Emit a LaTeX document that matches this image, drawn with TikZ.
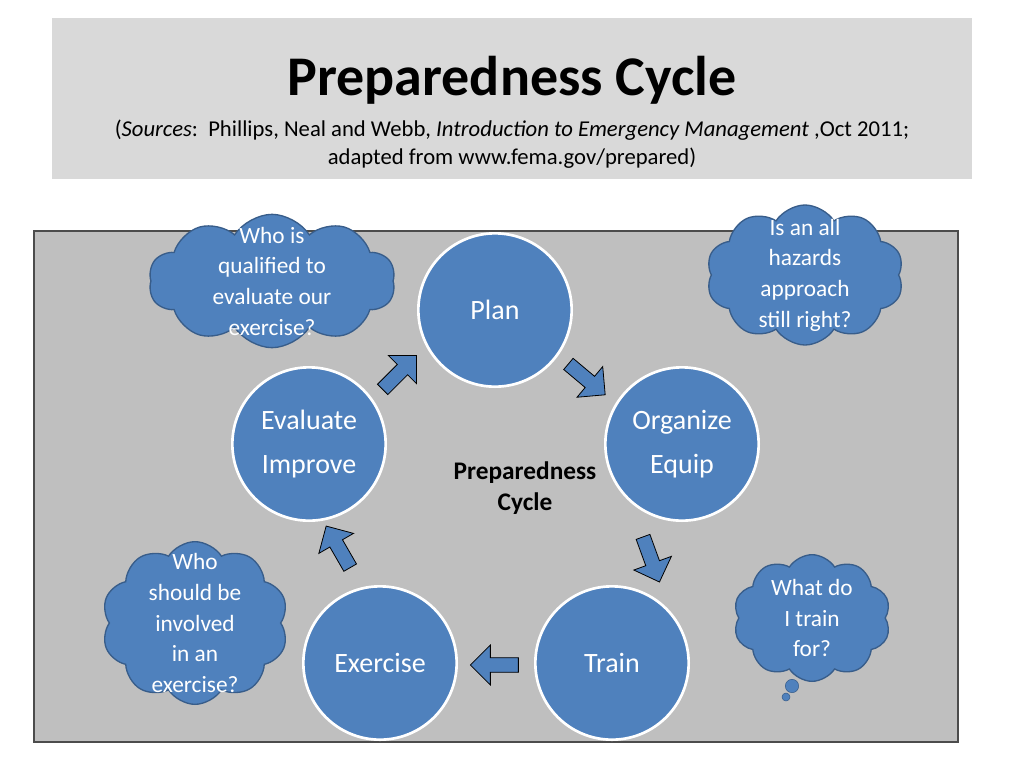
\documentclass[tikz,border=0pt]{standalone}
\usepackage{fontspec}
\setmainfont{Carlito}
\usetikzlibrary{shapes.symbols,shapes.arrows}
\definecolor{stepblue}{RGB}{79,129,189}
\definecolor{cloudedge}{RGB}{56,93,138}
\definecolor{titlegray}{RGB}{217,217,217}
\definecolor{panelgray}{RGB}{191,191,191}
\tikzset{
  phase/.style={circle, fill=stepblue, draw=white, line width=2pt, minimum size=115pt,
    text=white, font=\fontsize{21}{33}\selectfont, align=center},
  blockarrow/.style={single arrow, fill=stepblue, draw=black, line width=0.6pt,
    minimum height=36pt, minimum width=30pt, single arrow head extend=4pt, inner sep=2pt},
  thought/.style={cloud, cloud puffs=10, cloud puff arc=115, fill=stepblue,
    draw=cloudedge, line width=1pt, inner sep=0pt},
  thoughttext/.style={text=white, align=center, font=\fontsize{17.5}{23}\selectfont}
}
\begin{document}
\begin{tikzpicture}[x=0.75pt,y=-0.75pt]
  \useasboundingbox (0,0) rectangle (1024,768);
  \fill[white] (0,0) rectangle (1024,768);
  % title block
  \fill[titlegray] (52,18) rectangle (972,179);
  \node (title) at (512,80) {\fontsize{42}{46}\selectfont\bfseries Preparedness Cycle};
  \node (sources) at (512,144) [align=center, font=\fontsize{17}{21}\selectfont]
    {(\textit{Sources}:\ \ Phillips, Neal and Webb, \textit{Introduction to Emergency Management} ,Oct 2011;\\
     adapted from www.fema.gov/prepared)};
  % panel
  \filldraw[fill=panelgray, draw=black!70, line width=0.8pt] (34,231) rectangle (958,742);
  % phases
  \node[phase] (plan) at (495,310) {Plan};
  \node[phase] (organize) at (682,444) {Organize\\Equip};
  \node[phase] (train) at (612,663) {Train};
  \node[phase] (exercise) at (380,663) {Exercise};
  \node[phase] (evaluate) at (309,444) {Evaluate\\Improve};
  \node (centre) at (525,488) [align=center, font=\fontsize{19}{23}\selectfont\bfseries] {Preparedness\\Cycle};
  % arrows
  \node[blockarrow, rotate=-40] (a1) at (584,377) {};
  \node[blockarrow, rotate=-70] (a2) at (650,556) {};
  \node[blockarrow, rotate=180] (a3) at (498,665) {};
  \node[blockarrow, rotate=120] (a4) at (340,550) {};
  \node[blockarrow, rotate=45] (a5) at (397,375) {};
  % clouds
  \node[thought, minimum width=185pt, minimum height=100pt] (qtl) at (272,281) {};
  \node[thoughttext] at (qtl) {Who is\\qualified to\\evaluate our\\exercise?};
  \node[thought, minimum width=148pt, minimum height=105pt] (qtr) at (805,275) {};
  \node[thoughttext] at (qtr) {Is an all\\hazards\\approach\\still right?};
  \node[thought, minimum width=140pt, minimum height=122pt] (qbl) at (195,623) {};
  \node[thoughttext] at (qbl) {Who\\should be\\involved\\in an\\exercise?};
  \node[thought, minimum width=118pt, minimum height=95pt] (qbr) at (812,618) {};
  \node[thoughttext] at (qbr) {What do\\I train\\for?};
  \node[circle, fill=stepblue, draw=cloudedge, minimum size=10pt, inner sep=0pt] (b1) at (792,686) {};
  \node[circle, fill=stepblue, draw=cloudedge, minimum size=6pt, inner sep=0pt] (b2) at (786,697) {};
\end{tikzpicture}
\end{document}
